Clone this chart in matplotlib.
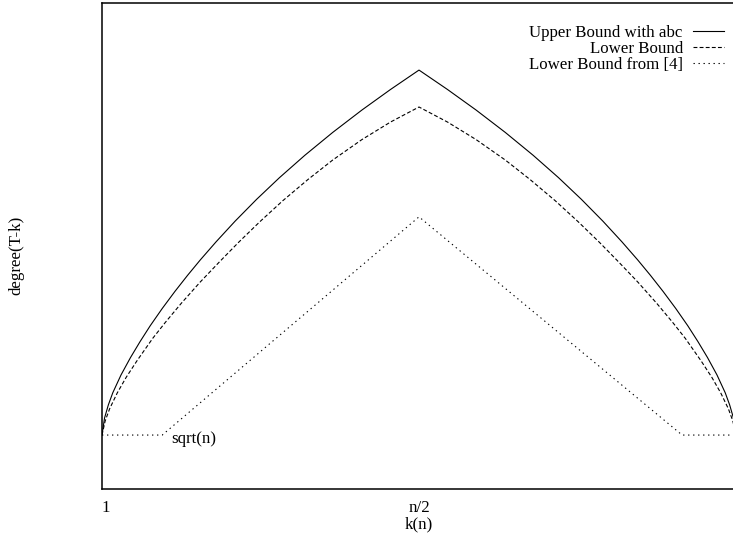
import matplotlib
matplotlib.use("Agg")
import matplotlib.pyplot as plt

# ---- data (normalised k, arbitrary degree units) ----
upper_k = [0, 0.004, 0.01, 0.017, 0.03, 0.045, 0.06, 0.076, 0.095, 0.115, 0.135, 0.155,
           0.18, 0.21, 0.244, 0.28, 0.32, 0.364, 0.41, 0.455, 0.5,
           0.545, 0.59, 0.636, 0.68, 0.72, 0.756, 0.79, 0.82, 0.845, 0.865, 0.885,
           0.905, 0.924, 0.94, 0.955, 0.97, 0.983, 0.99, 0.996, 1.0]
upper_y = [11.1, 14.6, 17.3, 19.8, 23.47, 27.06, 30.32, 33.58, 37.14, 40.65, 43.97, 47.13,
           50.87, 55.12, 59.62, 64.07, 68.67, 73.38, 77.98, 82.2, 86.2,
           82.2, 77.98, 73.38, 68.67, 64.07, 59.62, 55.12, 50.87, 47.13, 43.97, 40.65,
           37.14, 33.58, 30.32, 27.06, 23.47, 19.8, 17.3, 14.6, 11.1]

lower_k = [0, 0.005, 0.012, 0.024, 0.038, 0.055, 0.08, 0.1, 0.125, 0.155, 0.185, 0.215,
           0.249, 0.285, 0.325, 0.364, 0.41, 0.455, 0.5,
           0.545, 0.59, 0.636, 0.675, 0.715, 0.751, 0.785, 0.815, 0.845, 0.875, 0.9,
           0.92, 0.945, 0.962, 0.976, 0.988, 0.995, 1.0]
lower_y = [11.1, 14.0, 16.5, 19.75, 22.95, 26.35, 31.0, 34.3, 38.2, 42.6, 46.7, 50.7,
           55.0, 59.3, 63.7, 67.7, 71.9, 75.5, 78.6,
           75.5, 71.9, 67.7, 63.7, 59.3, 55.0, 50.7, 46.7, 42.6, 38.2, 34.3,
           31.0, 26.35, 22.95, 19.75, 16.5, 14.0, 11.1]

old_k = [0, 0.095, 0.5, 0.915, 1.0]
old_y = [11.1, 11.1, 56.0, 11.1, 11.1]

labels = ["Upper Bound with abc", "Lower Bound", "Lower Bound from [4]"]
xtick_pos = [0, 0.5]
xtick_labels = ["1", "n/2"]

plt.rcParams['font.family'] = ['Liberation Serif', 'DejaVu Serif']
FS = 12.2

fig = plt.figure(figsize=(7.33, 5.35), dpi=100)
ax = fig.add_axes([102 / 733, 46 / 535, 634 / 733, 486 / 535])

ax.plot(upper_k, upper_y, color='black', lw=0.8, ls='-', label=labels[0])
ax.plot(lower_k, lower_y, color='black', lw=0.8, ls=(0, (3.5, 2.0)), label=labels[1])
ax.plot(old_k, old_y, color='black', lw=0.8, ls=(0, (1.2, 3.3)), label=labels[2])

ax.text(0.110, 10.2, "sqrt(n)", fontsize=FS, ha='left', va='center')

ax.set_xlim(0, 1)
ax.set_ylim(0, 100)
ax.set_xticks(xtick_pos)
ax.set_xticklabels(xtick_labels, fontsize=FS)
ax.set_yticks([])
ax.tick_params(axis='x', length=0, pad=8)
ax.get_xticklabels()[0].set_horizontalalignment('left')
ax.set_xlabel("k(n)", fontsize=FS, labelpad=0)
ax.set_ylabel("degree(T-k)", fontsize=FS)
ax.yaxis.set_label_coords(-0.123, 0.481)

for s in ['left', 'top', 'bottom']:
    ax.spines[s].set_linewidth(1.1)
ax.spines['right'].set_visible(False)

leg = ax.legend(loc='upper right', bbox_to_anchor=(0.999, 0.979), frameon=False,
                markerfirst=False, fontsize=FS, handlelength=1.8,
                handletextpad=0.6, labelspacing=0.0, borderaxespad=0.3)

fig.savefig("out.png", dpi=100)
